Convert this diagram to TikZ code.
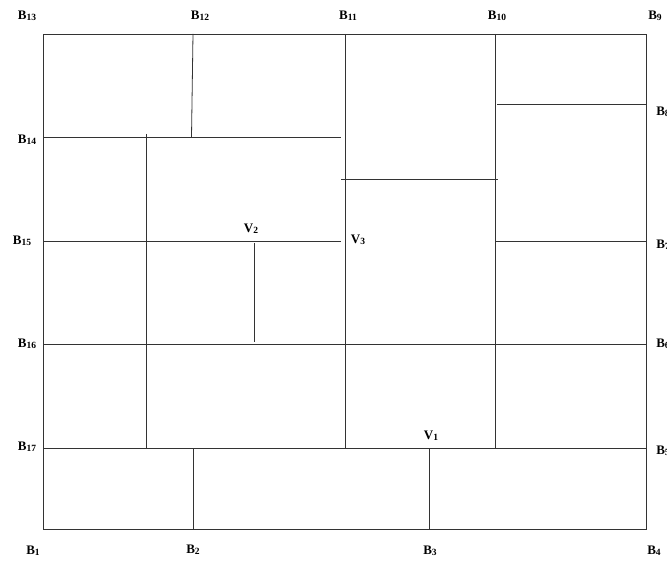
\documentclass[tikz,border=0pt]{standalone}
\usepackage{fontspec}
\setmainfont{Liberation Serif}
\newcommand{\sub}[1]{\raisebox{-1.2pt}{\fontsize{9.5}{10}\selectfont #1}}

\begin{document}
\begin{tikzpicture}[x=1pt, y=-1pt,
    wall/.style={draw=black!80, line width=0.8pt},
    lbl/.style={font=\bfseries\fontsize{13}{15}\selectfont, inner sep=0pt}]
    \useasboundingbox (0,0) rectangle (667,561);
    \clip (0,0) rectangle (667,561);

    % Draw outline
    \coordinate (nw) at (43,34);
    \coordinate (se) at (646,529);
    \draw[wall] (nw) rectangle (se);

    % Draw partitions
    \draw[wall] (43,137) -- (341,137);
    \draw[wall] (341,179) -- (498,179);
    \draw[wall] (497,104) -- (646,104);
    \draw[wall] (43,241) -- (341,241);
    \draw[wall] (495,241) -- (646,241);
    \draw[wall] (43,344) -- (646,344);
    \draw[wall] (43,448) -- (646,448);

    \draw[wall] (193,34) -- (191.5,137);
    \draw[wall] (146,134) -- (146,448);
    \draw[wall] (254,243) -- (254,342);
    \draw[wall] (345,34) -- (345,448);
    \draw[wall] (495,34) -- (495,448);
    \draw[wall] (193,448) -- (193,529);
    \draw[wall] (429,448) -- (429,529);

    % Labels
    \node[lbl] (b1) at (33,551) {B\sub{1}};
    \node[lbl] (b2) at (193,550) {B\sub{2}};
    \node[lbl] (b3) at (430,551) {B\sub{3}};
    \node[lbl] (b4) at (654,551) {B\sub{4}};
    \node[lbl] (b5) at (663,451) {B\sub{5}};
    \node[lbl] (b6) at (663,344) {B\sub{6}};
    \node[lbl] (b7) at (663,245) {B\sub{7}};
    \node[lbl] (b8) at (663,112) {B\sub{8}};
    \node[lbl] (b9) at (655,16) {B\sub{9}};
    \node[lbl] (b10) at (497,16) {B\sub{10}};
    \node[lbl] (b11) at (348,16) {B\sub{11}};
    \node[lbl] (b12) at (200,16) {B\sub{12}};
    \node[lbl] (b13) at (27,16) {B\sub{13}};
    \node[lbl] (b14) at (27,140) {B\sub{14}};
    \node[lbl] (b15) at (22,241) {B\sub{15}};
    \node[lbl] (b16) at (27,344) {B\sub{16}};
    \node[lbl] (b17) at (27,447) {B\sub{17}};
    \node[lbl] (v1) at (431,436) {V\sub{1}};
    \node[lbl] (v2) at (251,229) {V\sub{2}};
    \node[lbl] (v3) at (358,240) {V\sub{3}};
\end{tikzpicture}
\end{document}
